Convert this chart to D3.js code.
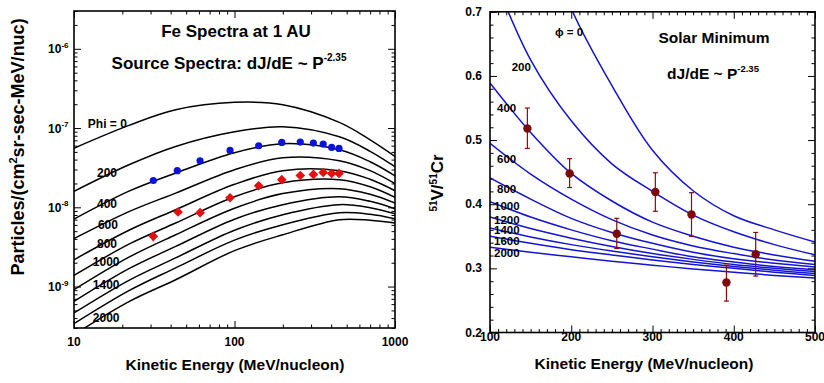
<!DOCTYPE html>
<html>
<head>
<meta charset="utf-8">
<script src="https://cdn.jsdelivr.net/npm/d3@7"></script>
<style>
  body { margin: 0; background: #fff; }
  text { font-family: "Liberation Sans", Arial, sans-serif; font-weight: bold; fill: #000; }
</style>
</head>
<body>
<svg id="chart" width="824" height="383"></svg>
<script>
// ---- left panel: Fe spectra at 1 AU ----
const energies = [10, 22, 43, 100, 200, 450, 700, 1000];
const phiValues = [0, 200, 400, 600, 800, 1000, 1200, 1400, 1600, 1800, 2000];
const feCurves = [
  [5.56e-8, 1.08e-7, 1.70e-7, 2.11e-7, 1.97e-7, 1.18e-7, 7.11e-8, 4.39e-8],
  [1.59e-8, 3.44e-8, 5.86e-8, 8.97e-8, 1.04e-7, 7.76e-8, 5.09e-8, 3.25e-8],
  [7.11e-9, 1.60e-8, 2.71e-8, 4.89e-8, 6.34e-8, 5.32e-8, 3.76e-8, 2.50e-8],
  [4.02e-9, 8.81e-9, 1.51e-8, 2.98e-8, 4.22e-8, 3.87e-8, 2.90e-8, 1.99e-8],
  [2.18e-9, 5.14e-9, 9.33e-9, 1.95e-8, 2.90e-8, 2.90e-8, 2.26e-8, 1.62e-8],
  [1.38e-9, 3.43e-9, 6.34e-9, 1.36e-8, 2.04e-8, 2.23e-8, 1.82e-8, 1.34e-8],
  [9.14e-10, 2.35e-9, 4.51e-9, 9.75e-9, 1.49e-8, 1.72e-8, 1.46e-8, 1.13e-8],
  [6.50e-10, 1.68e-9, 3.21e-9, 7.08e-9, 1.08e-8, 1.36e-8, 1.19e-8, 9.59e-9],
  [4.65e-10, 1.20e-9, 2.30e-9, 5.14e-9, 8.07e-9, 1.08e-8, 9.89e-9, 8.30e-9],
  [3.40e-10, 8.87e-10, 1.72e-9, 3.85e-9, 6.04e-9, 8.55e-9, 8.18e-9, 7.18e-9],
  [2.47e-10, 6.46e-10, 1.22e-9, 2.84e-9, 4.51e-9, 6.98e-9, 6.87e-9, 6.34e-9]
];
const blueE = [31.2, 44, 61, 93.8, 141.5, 197, 257, 310, 357, 403, 448];
const blueFlux = [2.18e-8, 2.9e-8, 3.87e-8, 5.22e-8, 5.98e-8, 6.58e-8, 6.66e-8, 6.47e-8, 6.29e-8, 5.69e-8, 5.53e-8];
const redE = [31.2, 44.5, 61, 93.8, 141.5, 197, 257, 310, 357, 403, 448];
const redFlux = [4.3e-9, 8.73e-9, 8.55e-9, 1.32e-8, 1.87e-8, 2.23e-8, 2.52e-8, 2.6e-8, 2.75e-8, 2.68e-8, 2.68e-8];
const redErrLo = [3.72e-9, null, null, null, null, null, null, null, null, null, null];
const redErrHi = [4.74e-9, null, null, null, null, null, null, null, null, null, null];
const feLabels = ['Phi = 0', '200', '400', '600', '800', '1000', '1400', '2000'];
const feLabelAt = [[12.2, 1.01e-7], [13.9, 2.4e-8], [13.9, 9.8e-9], [14.1, 5.33e-9], [13.9, 3.07e-9], [13.1, 1.84e-9], [13.1, 9.33e-10], [13.1, 3.61e-10]];
const yTicksLeft = [1e-9, 1e-8, 1e-7, 1e-6];
const xTicksLeft = [10, 100, 1000];

// ---- right panel: 51V/51Cr ratio ----
const ratioE = [100, 150, 200, 250, 300, 350, 400, 450, 500];
const ratioPhi = [0, 200, 400, 600, 800, 1000, 1200, 1400, 1600, 2000];
const ratioCurves = [
  [null, 0.88, 0.705, 0.585, 0.484, 0.421, 0.382, 0.360, 0.341],
  [0.77, 0.625, 0.530, 0.463, 0.420, 0.383, 0.357, 0.337, 0.321],
  [0.589, 0.512, 0.448, 0.405, 0.372, 0.350, 0.333, 0.321, 0.311],
  [0.495, 0.447, 0.408, 0.376, 0.352, 0.335, 0.323, 0.313, 0.306],
  [0.441, 0.408, 0.378, 0.356, 0.339, 0.325, 0.315, 0.308, 0.302],
  [0.404, 0.380, 0.360, 0.343, 0.330, 0.318, 0.310, 0.303, 0.298],
  [0.380, 0.362, 0.347, 0.334, 0.323, 0.314, 0.306, 0.300, 0.295],
  [0.363, 0.349, 0.337, 0.327, 0.318, 0.310, 0.303, 0.297, 0.292],
  [0.350, 0.339, 0.329, 0.321, 0.313, 0.306, 0.300, 0.294, 0.289],
  [0.333, 0.325, 0.318, 0.311, 0.305, 0.299, 0.294, 0.289, 0.285]
];
const ratioDataE = [146, 198, 256, 303.5, 348, 391, 427];
const ratioData = [0.518, 0.448, 0.354, 0.419, 0.384, 0.278, 0.322];
const ratioLo = [0.487, 0.426, 0.331, 0.389, 0.350, 0.249, 0.288];
const ratioHi = [0.550, 0.471, 0.378, 0.449, 0.418, 0.305, 0.356];
const ratioLabels = ['\u03d5 = 0', '200', '400', '600', '800', '1000', '1200', '1400', '1600', '2000'];
const ratioLabelAt = [[180, 0.662], [126.7, 0.608], [108.6, 0.544], [108.6, 0.464], [108.6, 0.417], [105, 0.391], [105, 0.369], [105, 0.354], [105, 0.336], [105, 0.317]];
const yTicksRight = [0.2, 0.3, 0.4, 0.5, 0.6, 0.7];
const xTicksRight = [100, 200, 300, 400, 500];

const svg = d3.select('#chart');

// scales
const xL = d3.scaleLog().domain([10, 1000]).range([74, 395]);
const yL = d3.scaleLog().domain([3e-10, 3e-6]).range([328, 11]);
const xR = d3.scaleLinear().domain([100, 500]).range([490, 815]);
const yR = d3.scaleLinear().domain([0.2, 0.7]).range([332.5, 11.8]);

svg.append('defs').append('clipPath').attr('id', 'clipL')
  .append('rect').attr('x', 74).attr('y', 11).attr('width', 321).attr('height', 317);
svg.select('defs').append('clipPath').attr('id', 'clipR')
  .append('rect').attr('x', 490).attr('y', 11.8).attr('width', 325).attr('height', 320.7);

// inward ticks on all four sides
function ticks(g, axisFn, scale, values, size, tr) {
  g.append('g').attr('transform', tr)
    .call(axisFn(scale).tickValues(values).tickSize(size).tickFormat(''))
    .call(s => s.select('.domain').remove())
    .selectAll('line').attr('stroke', '#000').attr('stroke-width', 1);
}

// ---------------- left panel ----------------
const gL = svg.append('g');
const minorXL = xL.ticks().filter(v => !xTicksLeft.includes(v));
const minorYL = yL.ticks().filter(v => !yTicksLeft.some(t => Math.abs(t - v) / v < 1e-6));
ticks(gL, d3.axisBottom, xL, minorXL, -3.5, 'translate(0,328)');
ticks(gL, d3.axisBottom, xL, xTicksLeft, -7, 'translate(0,328)');
ticks(gL, d3.axisTop, xL, minorXL, -3.5, 'translate(0,11)');
ticks(gL, d3.axisTop, xL, xTicksLeft, -7, 'translate(0,11)');
ticks(gL, d3.axisLeft, yL, minorYL, -3.5, 'translate(74,0)');
ticks(gL, d3.axisLeft, yL, yTicksLeft, -7, 'translate(74,0)');
ticks(gL, d3.axisRight, yL, minorYL, -3.5, 'translate(395,0)');
ticks(gL, d3.axisRight, yL, yTicksLeft, -7, 'translate(395,0)');

const lineL = d3.line()
  .x((d, i) => xL(energies[i]))
  .y(d => yL(d))
  .curve(d3.curveCatmullRom.alpha(0.5));

gL.append('g').attr('clip-path', 'url(#clipL)')
  .selectAll('path').data(feCurves).join('path')
  .attr('d', lineL).attr('fill', 'none').attr('stroke', '#000').attr('stroke-width', 1.5);

gL.append('rect').attr('x', 74).attr('y', 11).attr('width', 321).attr('height', 317)
  .attr('fill', 'none').attr('stroke', '#000').attr('stroke-width', 1.6);

// labels on curves
gL.selectAll('text.phi').data(feLabels).join('text').attr('class', 'phi')
  .attr('x', (d, i) => xL(feLabelAt[i][0]))
  .attr('y', (d, i) => yL(feLabelAt[i][1]))
  .attr('font-size', 12).text(d => d);

// red error bar
gL.selectAll('line.err').data(redE.filter((d, i) => redErrLo[i] != null)).join('line')
  .attr('x1', d => xL(d)).attr('x2', d => xL(d))
  .attr('y1', (d, i) => yL(redErrLo[i])).attr('y2', (d, i) => yL(redErrHi[i]))
  .attr('stroke', '#e00000').attr('stroke-width', 1.2);

// blue circles
gL.selectAll('circle.blue').data(blueE).join('circle')
  .attr('cx', d => xL(d)).attr('cy', (d, i) => yL(blueFlux[i])).attr('r', 3.6)
  .attr('fill', '#0a14d8');

// red diamonds
gL.selectAll('path.red').data(redE).join('path')
  .attr('d', d3.symbol(d3.symbolDiamond2, 60))
  .attr('transform', (d, i) => `translate(${xL(d)},${yL(redFlux[i])})`)
  .attr('fill', '#e41010');

// tick labels
xTicksLeft.forEach(v => {
  gL.append('text').attr('x', xL(v)).attr('y', 346).attr('text-anchor', 'middle')
    .attr('font-size', 12).text(v);
});
yTicksLeft.forEach(v => {
  const t = gL.append('text').attr('x', 68.5).attr('y', yL(v) + 4.5).attr('text-anchor', 'end').attr('font-size', 12);
  t.append('tspan').text('10');
  t.append('tspan').attr('dy', -5.5).attr('font-size', 8).text(Math.round(Math.log10(v)));
});

// titles
gL.append('text').attr('x', 236).attr('y', 37).attr('text-anchor', 'middle').attr('font-size', 17).text('Fe Spectra at 1 AU');
const st = gL.append('text').attr('x', 229).attr('y', 69).attr('text-anchor', 'middle').attr('font-size', 17);
st.append('tspan').text('Source Spectra: dJ/dE ~ P');
st.append('tspan').attr('dy', -8).attr('font-size', 10).text('-2.35');

gL.append('text').attr('x', 235).attr('y', 370).attr('text-anchor', 'middle').attr('font-size', 15.5)
  .text('Kinetic Energy (MeV/nucleon)');

const yt = gL.append('text').attr('transform', 'translate(23.5,147) rotate(-90)')
  .attr('text-anchor', 'middle').attr('font-size', 18);
yt.append('tspan').text('Particles/(cm');
yt.append('tspan').attr('dy', -7).attr('font-size', 11).text('2');
yt.append('tspan').attr('dy', 7).text('sr-sec-MeV/nuc)');

// ---------------- right panel ----------------
const gR = svg.append('g');
const minorXR = d3.range(110, 500, 10).filter(v => v % 100 !== 0);
const minorYR = d3.range(0.22, 0.7, 0.02).filter(v => Math.abs(v * 10 - Math.round(v * 10)) > 1e-6);
ticks(gR, d3.axisBottom, xR, minorXR, -3.5, 'translate(0,332.5)');
ticks(gR, d3.axisBottom, xR, xTicksRight, -7, 'translate(0,332.5)');
ticks(gR, d3.axisTop, xR, minorXR, -3.5, 'translate(0,11.8)');
ticks(gR, d3.axisTop, xR, xTicksRight, -7, 'translate(0,11.8)');
ticks(gR, d3.axisLeft, yR, minorYR, -3.5, 'translate(490,0)');
ticks(gR, d3.axisLeft, yR, yTicksRight, -7, 'translate(490,0)');
ticks(gR, d3.axisRight, yR, minorYR, -3.5, 'translate(815,0)');
ticks(gR, d3.axisRight, yR, yTicksRight, -7, 'translate(815,0)');

const lineR = d3.line()
  .defined(d => d != null)
  .x((d, i) => xR(ratioE[i]))
  .y(d => yR(d))
  .curve(d3.curveCatmullRom.alpha(0.5));

gR.append('g').attr('clip-path', 'url(#clipR)')
  .selectAll('path').data(ratioCurves).join('path')
  .attr('d', lineR).attr('fill', 'none').attr('stroke', '#1414d2').attr('stroke-width', 1.5);

gR.append('rect').attr('x', 490).attr('y', 11.8).attr('width', 325).attr('height', 320.7)
  .attr('fill', 'none').attr('stroke', '#000').attr('stroke-width', 1.6);

gR.selectAll('text.phi').data(ratioLabels).join('text').attr('class', 'phi')
  .attr('x', (d, i) => xR(ratioLabelAt[i][0]))
  .attr('y', (d, i) => yR(ratioLabelAt[i][1]))
  .attr('font-size', 11.5).text(d => d);

// error bars with caps
const eb = gR.append('g').attr('stroke', '#8b0a0a').attr('stroke-width', 1.2);
ratioDataE.forEach((e, i) => {
  eb.append('line').attr('x1', xR(e)).attr('x2', xR(e)).attr('y1', yR(ratioLo[i])).attr('y2', yR(ratioHi[i]));
  eb.append('line').attr('x1', xR(e) - 2.5).attr('x2', xR(e) + 2.5).attr('y1', yR(ratioLo[i])).attr('y2', yR(ratioLo[i]));
  eb.append('line').attr('x1', xR(e) - 2.5).attr('x2', xR(e) + 2.5).attr('y1', yR(ratioHi[i])).attr('y2', yR(ratioHi[i]));
});
gR.selectAll('circle.pt').data(ratioDataE).join('circle')
  .attr('cx', d => xR(d)).attr('cy', (d, i) => yR(ratioData[i])).attr('r', 4.2)
  .attr('fill', '#7d0a0a');

xTicksRight.forEach(v => {
  gR.append('text').attr('x', xR(v)).attr('y', 341).attr('text-anchor', 'middle')
    .attr('font-size', 12).text(v);
});
yTicksRight.forEach(v => {
  gR.append('text').attr('x', 482).attr('y', yR(v) + 4).attr('text-anchor', 'end')
    .attr('font-size', 12).text(v.toFixed(1));
});

gR.append('text').attr('x', 714).attr('y', 43).attr('text-anchor', 'middle').attr('font-size', 15.5).text('Solar Minimum');
const st2 = gR.append('text').attr('x', 713).attr('y', 79).attr('text-anchor', 'middle').attr('font-size', 15.5);
st2.append('tspan').text('dJ/dE ~ P');
st2.append('tspan').attr('dy', -7).attr('font-size', 9.5).text('-2.35');

gR.append('text').attr('x', 644).attr('y', 369).attr('text-anchor', 'middle').attr('font-size', 15.5)
  .text('Kinetic Energy (MeV/nucleon)');

const yt2 = gR.append('text').attr('transform', 'translate(443,183) rotate(-90)')
  .attr('text-anchor', 'middle').attr('font-size', 17);
yt2.append('tspan').attr('dy', -6).attr('font-size', 10).text('51');
yt2.append('tspan').attr('dy', 6).text('V/');
yt2.append('tspan').attr('dy', -6).attr('font-size', 10).text('51');
yt2.append('tspan').attr('dy', 6).text('Cr');
</script>
</body>
</html>
